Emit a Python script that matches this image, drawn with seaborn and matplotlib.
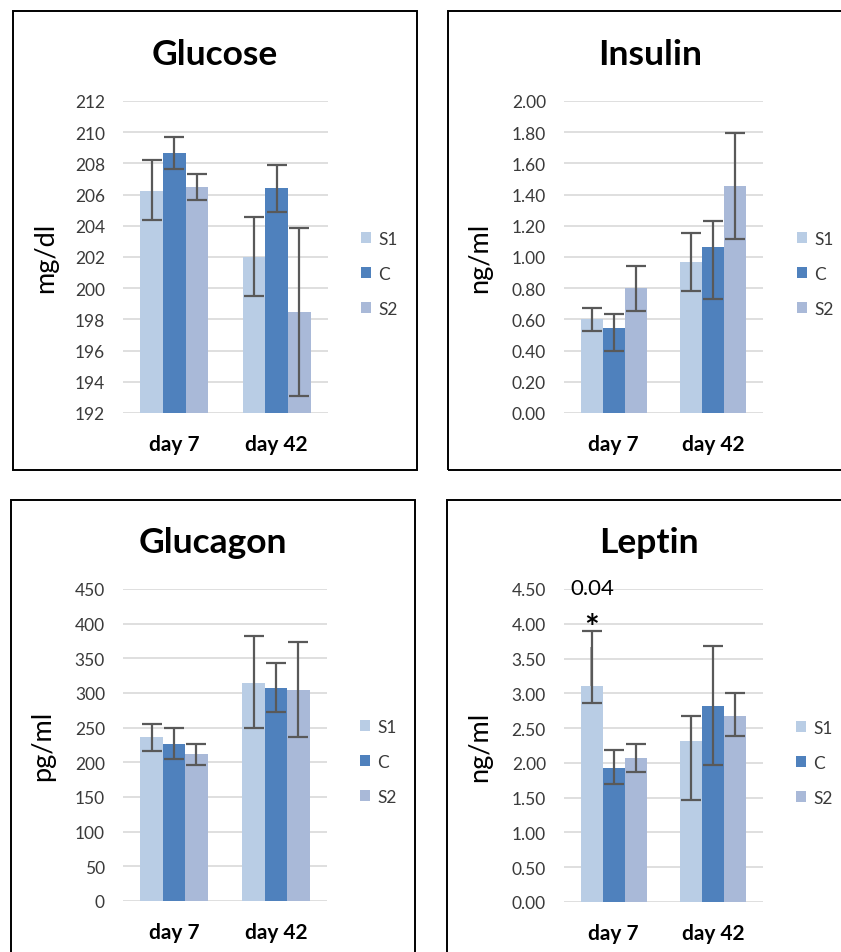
import matplotlib
matplotlib.use("Agg")
import matplotlib.pyplot as plt
import seaborn as sns
import pandas as pd
from matplotlib.patches import Rectangle, Patch
from matplotlib.container import BarContainer

# ---------------- data ----------------
days = ["day 7", "day 42"]
groups = ["S1", "C", "S2"]
colors = ["#B9CDE5", "#4F81BD", "#A9B9D8"]

glucose_mean = [[206.25, 202.02], [208.65, 206.40], [206.47, 198.45]]
glucose_hi = [[208.20, 204.54], [209.67, 207.92], [207.32, 203.86]]
glucose_lo = [[204.40, 199.52], [207.66, 204.90], [205.67, 193.11]]

insulin_mean = [[0.600, 0.966], [0.545, 1.066], [0.800, 1.453]]
insulin_hi = [[0.675, 1.154], [0.637, 1.228], [0.944, 1.793]]
insulin_lo = [[0.524, 0.780], [0.400, 0.730], [0.656, 1.115]]

glucagon_mean = [[236.0, 315.0], [226.4, 306.8], [212.0, 304.3]]
glucagon_hi = [[255.7, 382.7], [249.0, 342.8], [226.9, 373.1]]
glucagon_lo = [[215.9, 249.0], [204.3, 273.0], [196.6, 236.0]]

leptin_mean = [[3.11, 2.31], [1.93, 2.82], [2.07, 2.68]]
leptin_hi = [[3.90, 2.68], [2.18, 3.68], [2.265, 3.00]]
leptin_lo = [[2.86, 1.46], [1.69, 1.97], [1.875, 2.38]]
leptin_extra_top = 3.66       # faint second bar on S1 day 7
leptin_pvalue = "0.04"
leptin_pvalue_y = 4.43
leptin_star_y = 3.80

titles = ["Glucose", "Insulin", "Glucagon", "Leptin"]
ylabels = ["mg/dl", "ng/ml", "pg/ml", "ng/ml"]
yticks_list = [
    list(range(192, 213, 2)),
    [i * 0.2 for i in range(11)],
    list(range(0, 451, 50)),
    [i * 0.5 for i in range(10)],
]
yfmt = ["{:.0f}", "{:.2f}", "{:.0f}", "{:.2f}"]

# ---------------- style ----------------
sns.set_style("white")
plt.rcParams["font.family"] = ["Lato", "DejaVu Sans"]

W, H = 841, 953
fig = plt.figure(figsize=(W / 100, H / 100), dpi=100)

def fx(x):
    return x / W

def fy(y):
    return 1 - y / H

# axes pixel boxes: (left, top, right, bottom)
axes_px = [(123, 102, 328, 414), (564, 102, 763, 414),
           (123, 590, 327, 902), (564, 590, 763, 903)]
panels_px = [(13, 12, 417, 471), (448, 12, 852, 471),
             (11, 501, 415, 970), (447, 501, 851, 970)]
title_base_px = [65, 65, 553, 553]
legend_px = [(361, 275), (797, 275), (360, 763), (796, 764)]
ylabel_x = [-0.317, -0.36, -0.333, -0.36]

means = [glucose_mean, insulin_mean, glucagon_mean, leptin_mean]
his = [glucose_hi, insulin_hi, glucagon_hi, leptin_hi]
los = [glucose_lo, insulin_lo, glucagon_lo, leptin_lo]

for k in range(4):
    # panel border
    l, t, r, b = panels_px[k]
    fig.patches.append(Rectangle((fx(l), fy(b)), fx(r) - fx(l), fy(t) - fy(b),
                                 transform=fig.transFigure, fill=False,
                                 edgecolor="black", linewidth=1.4, zorder=0))
    fig.text(fx((l + r) / 2), fy(title_base_px[k]), titles[k], ha="center",
             va="baseline", fontsize=25.5, fontweight="bold", color="black")

    al, at, ar, ab = axes_px[k]
    ax = fig.add_axes([fx(al), fy(ab), fx(ar) - fx(al), fy(at) - fy(ab)])

    rows = []
    for gi, g in enumerate(groups):
        for di, d in enumerate(days):
            rows.append({"day": d, "group": g, "value": means[k][gi][di]})
    df = pd.DataFrame(rows)
    sns.barplot(data=df, x="day", y="value", hue="group", order=days,
                hue_order=groups, palette=colors, saturation=1, width=0.66,
                errorbar=None, ax=ax, zorder=2, linewidth=0)

    bar_conts = [c for c in ax.containers if isinstance(c, BarContainer)]
    # error bars
    for gi, cont in enumerate(bar_conts):
        xs = [bar.get_x() + bar.get_width() / 2 for bar in cont]
        m = means[k][gi]
        yerr = [[m[i] - los[k][gi][i] for i in range(2)],
                [his[k][gi][i] - m[i] for i in range(2)]]
        ax.errorbar(xs, m, yerr=yerr, fmt="none", ecolor="#595959",
                    elinewidth=1.6, capsize=7, capthick=1.6, zorder=4)
        if k == 3 and gi == 0:
            ax.vlines(xs[0] - 0.012, m[0], leptin_extra_top, color="#9A9A9A",
                      linewidth=1.2, zorder=3)
            ax.text(xs[0], leptin_pvalue_y, leptin_pvalue, ha="center",
                    va="baseline", fontsize=16, color="black")
            ax.text(xs[0], leptin_star_y, "*", ha="center", va="baseline",
                    fontsize=25, fontweight="bold", color="black")

    yt = yticks_list[k]
    ax.set_ylim(yt[0], yt[-1])
    ax.set_xlim(-0.5, 1.5)
    ax.set_yticks(yt)
    ax.set_yticklabels([yfmt[k].format(v) for v in yt], fontsize=12.5,
                       color="#3A3A3A")
    ax.set_xticks([0, 1])
    ax.set_xticklabels(days, fontsize=15, fontweight="bold", color="black")
    ax.tick_params(axis="y", length=0, pad=13)
    ax.tick_params(axis="x", length=0, pad=15)
    ax.yaxis.grid(True, color="#D9D9D9", linewidth=1.2, zorder=0)
    ax.set_axisbelow(True)
    for s in ax.spines.values():
        s.set_visible(False)
    ax.set_xlabel("")
    ax.set_ylabel(ylabels[k], fontsize=19.5, fontweight="normal",
                  color="black")
    ax.yaxis.set_label_coords(ylabel_x[k], 0.5)

    if ax.get_legend() is not None:
        ax.get_legend().remove()
    handles = [Patch(facecolor=c, edgecolor="none") for c in colors]
    lx, ly = legend_px[k]
    ax.legend(handles, groups, loc="center left",
              bbox_to_anchor=(fx(lx), fy(ly)), bbox_transform=fig.transFigure,
              frameon=False, fontsize=12.5, handlelength=0.6, handleheight=0.6,
              handletextpad=0.4, labelspacing=1.1, borderpad=0,
              borderaxespad=0, labelcolor="#3A3A3A")

fig.savefig("out.png", dpi=100)
